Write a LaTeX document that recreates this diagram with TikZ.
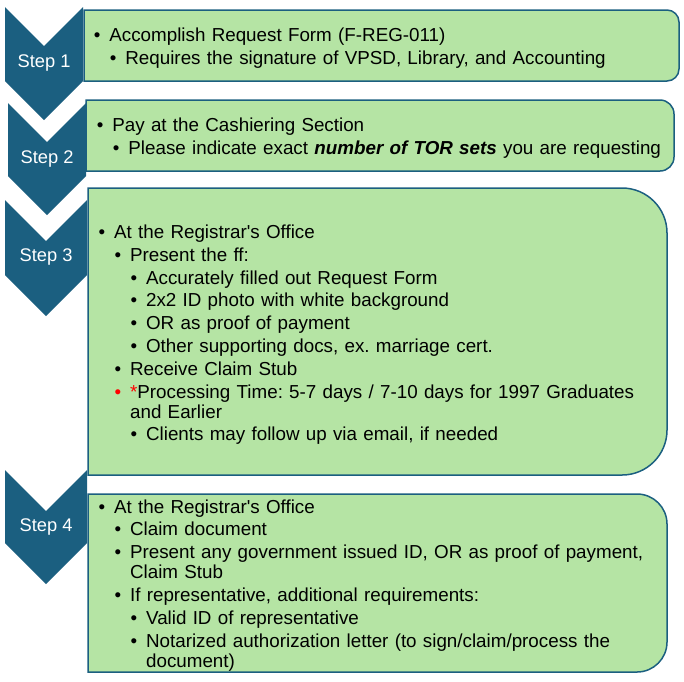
\documentclass[tikz,border=0pt]{standalone}
\usepackage{fontspec}
\setmainfont{Liberation Sans}
\usetikzlibrary{positioning}

\definecolor{chevblue}{RGB}{27,95,128}
\definecolor{boxgreen}{RGB}{181,228,164}

% bullet lines: optional indent, then the text
\newcommand{\itm}[2][0pt]{\par\leftskip=#1\relax\hangindent=15.5pt\hangafter=1\noindent\makebox[15.5pt][l]{\textbullet}\strut#2}
\newcommand{\reditm}[2][0pt]{\par\leftskip=#1\relax\hangindent=15.5pt\hangafter=1\noindent\makebox[15.5pt][l]{\color{red}\textbullet}\strut#2}

\begin{document}
\frenchspacing
\begin{tikzpicture}[x=1pt,y=1pt,
    chev/.style={fill=chevblue},
    greenbox/.style={fill=boxgreen,draw=chevblue,line width=1.5pt},
    steplabel/.style={text=white,inner sep=0pt,font=\fontsize{18.3}{20}\selectfont},
    txt/.style={anchor=north west,inner sep=0pt,text width=575pt,align=left,
        font=\fontsize{18.8}{20}\selectfont}]

    \useasboundingbox (0,0) rectangle (684,-681);

    % Draw chevrons
    \fill[chev] (5,-7) -- (44,-46) -- (83,-7) -- (83,-81) -- (44,-120) -- (5,-81) -- cycle;
    \fill[chev] (8,-103) -- (47,-142) -- (86,-103) -- (86,-176) -- (47,-215) -- (8,-176) -- cycle;
    \fill[chev] (5,-200) -- (46,-241) -- (87,-200) -- (87,-275) -- (46,-316) -- (5,-275) -- cycle;
    \fill[chev] (5,-470) -- (46,-511) -- (87,-470) -- (87,-543) -- (46,-584) -- (5,-543) -- cycle;

    % Step labels
    \node[steplabel] (s1) at (44,-63) {Step 1};
    \node[steplabel] (s2) at (47,-159) {Step 2};
    \node[steplabel] (s3) at (46,-257) {Step 3};
    \node[steplabel] (s4) at (46,-527) {Step 4};

    % Draw the boxes, rounded on the right
    \draw[greenbox] (84,-10) -- (667,-10) arc[start angle=90,end angle=0,radius=12pt]
        -- (679,-69) arc[start angle=0,end angle=-90,radius=12pt] -- (84,-81) -- cycle;
    \draw[greenbox] (86,-100) -- (660,-100) arc[start angle=90,end angle=0,radius=14pt]
        -- (674,-157) arc[start angle=0,end angle=-90,radius=14pt] -- (86,-171) -- cycle;
    \draw[greenbox] (88,-188) -- (622,-188) arc[start angle=90,end angle=0,radius=45pt]
        -- (667,-430) arc[start angle=0,end angle=-90,radius=45pt] -- (88,-475) -- cycle;
    \draw[greenbox] (88,-494) -- (637,-494) arc[start angle=90,end angle=0,radius=30pt]
        -- (667,-642) arc[start angle=0,end angle=-90,radius=30pt] -- (88,-672) -- cycle;

    % Box texts
    \node[txt] (t1) at (93.7,-18.5) {\setlength{\parskip}{2.8pt}%
        \itm{Accomplish Request Form (F-REG-011)}
        \itm[16pt]{Requires the signature of VPSD, Library, and Accounting}\par};
    \node[txt] (t2) at (96.7,-108.5) {\setlength{\parskip}{2.8pt}%
        \itm{Pay at the Cashiering Section}
        \itm[16pt]{Please indicate exact \textbf{\textit{number of TOR sets}} you are requesting}\par};
    \node[txt] (t3) at (98.4,-215.5) {\setlength{\parskip}{2.8pt}%
        \itm{At the Registrar\textquotesingle s Office}
        \itm[16pt]{Present the ff:}
        \itm[32pt]{Accurately filled out Request Form}
        \itm[32pt]{2x2 ID photo with white background}
        \itm[32pt]{OR as proof of payment}
        \itm[32pt]{Other supporting docs, ex. marriage cert.}
        \itm[16pt]{Receive Claim Stub}
        \reditm[16pt]{\textcolor{red}{*}Processing Time: 5-7 days / 7-10 days for 1997 Graduates\newline and Earlier}
        \itm[32pt]{Clients may follow up via email, if needed}\par};
    \node[txt] (t4) at (98.4,-490) {\setlength{\parskip}{2.8pt}%
        \itm{At the Registrar\textquotesingle s Office}
        \itm[16pt]{Claim document}
        \itm[16pt]{Present any government issued ID, OR as proof of payment,\newline Claim Stub}
        \itm[16pt]{If representative, additional requirements:}
        \itm[32pt]{Valid ID of representative}
        \itm[32pt]{Notarized authorization letter (to sign/claim/process the\newline document)}\par};
\end{tikzpicture}
\end{document}
